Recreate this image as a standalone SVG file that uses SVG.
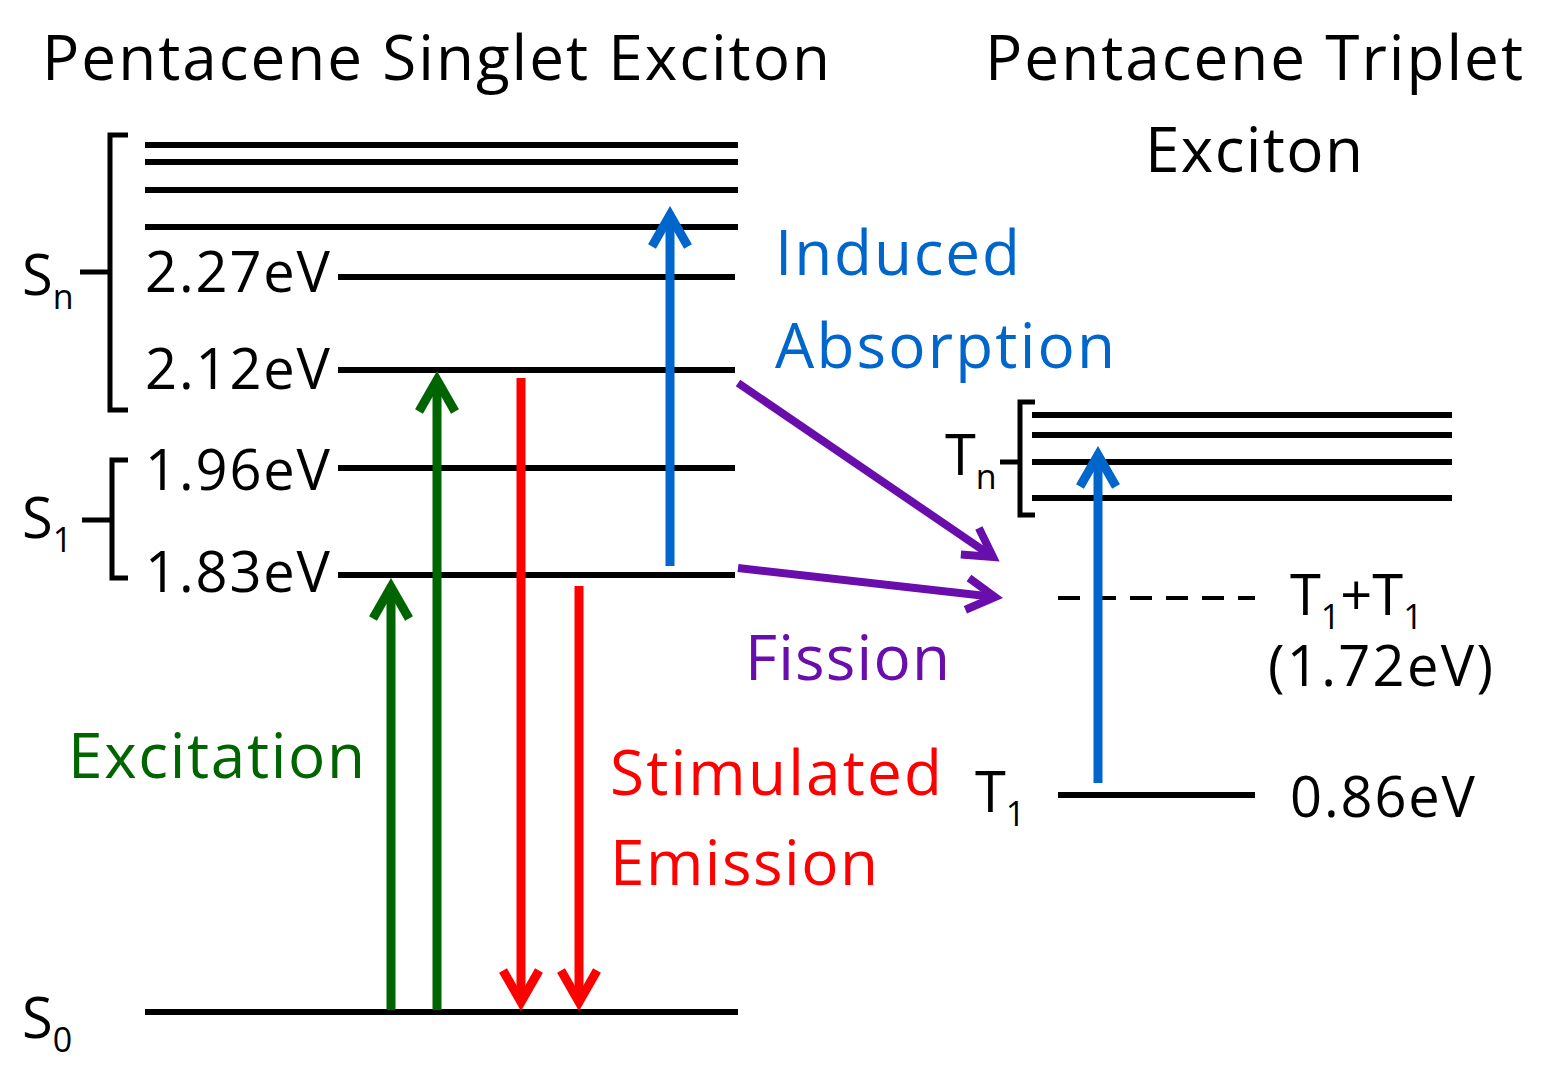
<svg xmlns="http://www.w3.org/2000/svg" width="1542" height="1077" viewBox="0 0 1542 1077">
<defs>
<style>
text{font-family:"Open Sans","Liberation Sans",sans-serif;}
.t{font-size:62px;fill:#000}
.l{font-size:56px;fill:#000}
.lv{stroke:#000;stroke-width:6}
.br{fill:none;stroke:#000;stroke-width:5}
.c{font-size:62px}
</style>
<marker id="ag" viewBox="0 0 10 10" refX="8" refY="5" markerWidth="5" markerHeight="5" orient="auto" markerUnits="strokeWidth"><path d="M1,1 L8,5 L1,9" fill="none" stroke="#006400" stroke-width="2"/></marker>
<marker id="ar" viewBox="0 0 10 10" refX="8" refY="5" markerWidth="5" markerHeight="5" orient="auto" markerUnits="strokeWidth"><path d="M1,1 L8,5 L1,9" fill="none" stroke="#ff0000" stroke-width="2"/></marker>
<marker id="ab" viewBox="0 0 10 10" refX="8" refY="5" markerWidth="5" markerHeight="5" orient="auto" markerUnits="strokeWidth"><path d="M1,1 L8,5 L1,9" fill="none" stroke="#0066cc" stroke-width="2"/></marker>
<marker id="ap" viewBox="0 0 10 10" refX="8" refY="5" markerWidth="5" markerHeight="5" orient="auto" markerUnits="strokeWidth"><path d="M1,1 L8,5 L1,9" fill="none" stroke="#6a0dad" stroke-width="2"/></marker>
</defs>
<rect width="1542" height="1077" fill="#fff"/>
<text class="t" x="42" y="80" textLength="788">Pentacene Singlet Exciton</text>
<text class="t" x="985" y="80" textLength="538">Pentacene Triplet</text>
<text class="t" x="1145" y="172" textLength="218">Exciton</text>
<g id="singlet-levels">
<line class="lv" x1="145" y1="145" x2="738" y2="145"/>
<line class="lv" x1="145" y1="162" x2="738" y2="162"/>
<line class="lv" x1="145" y1="190" x2="738" y2="190"/>
<line class="lv" x1="145" y1="227" x2="738" y2="227"/>
<line class="lv" x1="338" y1="277" x2="735" y2="277"/>
<line class="lv" x1="338" y1="370" x2="735" y2="370"/>
<line class="lv" x1="338" y1="468" x2="735" y2="468"/>
<line class="lv" x1="338" y1="575" x2="735" y2="575"/>
<line class="lv" x1="145" y1="1012" x2="738" y2="1012"/>
<text class="l" x="145" y="292" textLength="185">2.27eV</text>
<text class="l" x="145" y="389" textLength="185">2.12eV</text>
<text class="l" x="145" y="490" textLength="185">1.96eV</text>
<text class="l" x="145" y="592" textLength="185">1.83eV</text>
<path class="br" d="M128,135 L110,135 L110,410 L128,410 M110,272 L80,272"/>
<path class="br" d="M128,460 L112,460 L112,578 L128,578 M112,520 L82,520"/>
<text class="l" x="22" y="295">S<tspan font-size="34" dy="14">n</tspan></text>
<text class="l" x="22" y="538">S<tspan font-size="34" dy="14">1</tspan></text>
<text class="l" x="22" y="1038">S<tspan font-size="34" dy="14">0</tspan></text>
</g>
<g id="triplet-levels">
<line class="lv" x1="1032" y1="415" x2="1452" y2="415"/>
<line class="lv" x1="1032" y1="435" x2="1452" y2="435"/>
<line class="lv" x1="1032" y1="462" x2="1452" y2="462"/>
<line class="lv" x1="1032" y1="498" x2="1452" y2="498"/>
<path class="br" d="M1035,402 L1020,402 L1020,515 L1035,515 M1020,462 L1000,462"/>
<text class="l" x="945" y="475">T<tspan font-size="34" dy="14">n</tspan></text>
<line x1="1058" y1="598" x2="1255" y2="598" stroke="#000" stroke-width="4" stroke-dasharray="22,14"/>
<text class="l" x="1290" y="615">T<tspan font-size="34" dy="14">1</tspan><tspan dy="-14">+T</tspan><tspan font-size="34" dy="14">1</tspan></text>
<text class="l" x="1268" y="686" textLength="225">(1.72eV)</text>
<line class="lv" x1="1058" y1="795" x2="1255" y2="795"/>
<text class="l" x="975" y="812">T<tspan font-size="34" dy="14">1</tspan></text>
<text class="l" x="1290" y="817" textLength="185">0.86eV</text>
</g>
<g id="connectors" fill="none">
<line x1="391" y1="1010" x2="391" y2="587" stroke="#006400" stroke-width="9" marker-end="url(#ag)"/>
<line x1="437" y1="1010" x2="437" y2="380" stroke="#006400" stroke-width="9" marker-end="url(#ag)"/>
<line x1="521" y1="378" x2="521" y2="1002" stroke="#ff0000" stroke-width="9" marker-end="url(#ar)"/>
<line x1="579" y1="586" x2="579" y2="1002" stroke="#ff0000" stroke-width="9" marker-end="url(#ar)"/>
<line x1="670" y1="566" x2="670" y2="215" stroke="#0066cc" stroke-width="9" marker-end="url(#ab)"/>
<line x1="1098" y1="783" x2="1098" y2="455" stroke="#0066cc" stroke-width="9" marker-end="url(#ab)"/>
<line x1="738" y1="383" x2="993" y2="557" stroke="#6a0dad" stroke-width="8" marker-end="url(#ap)"/>
<line x1="738" y1="568" x2="995" y2="597" stroke="#6a0dad" stroke-width="8" marker-end="url(#ap)"/>
</g>
<g id="labels">
<text class="c" x="68" y="778" fill="#006400" textLength="297">Excitation</text>
<text class="c" x="610" y="795" fill="#ff0000" textLength="332">Stimulated</text>
<text class="c" x="610" y="885" fill="#ff0000" textLength="268">Emission</text>
<text class="c" x="775" y="275" fill="#0066cc" textLength="245">Induced</text>
<text class="c" x="775" y="368" fill="#0066cc" textLength="340">Absorption</text>
<text class="c" x="745" y="680" fill="#6a0dad" textLength="205">Fission</text>
</g>
</svg>
